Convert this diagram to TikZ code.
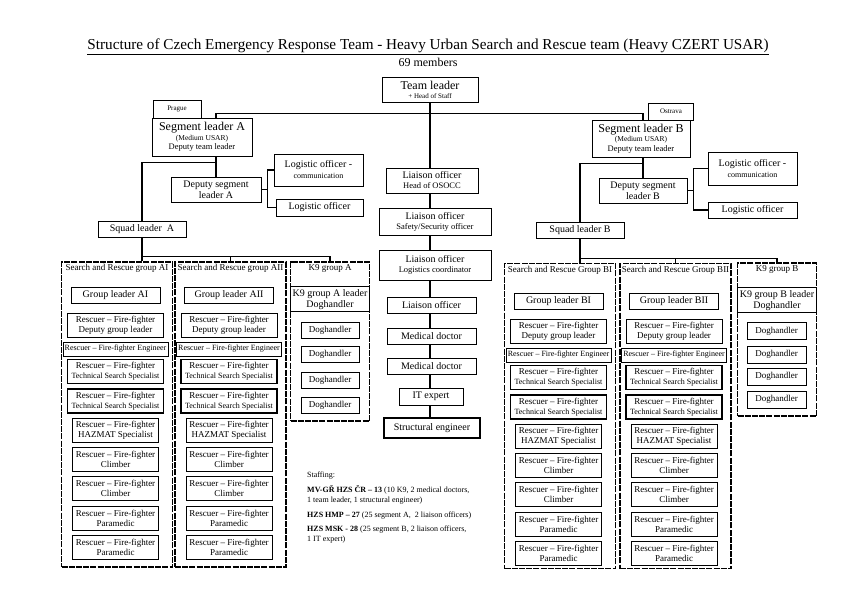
\documentclass[tikz,border=0pt]{standalone}
\usepackage{fontspec}
\setmainfont{Liberation Serif}
\usetikzlibrary{positioning, calc}
\newcommand{\fsz}[2]{\fontsize{#1}{#2}\selectfont}

\begin{document}
\begin{tikzpicture}[
    x=1pt, y=-1pt,
    box/.style={rectangle, draw, line width=0.6pt, inner sep=1pt, align=center, font=\fsz{9}{10}},
    thickbox/.style={box, line width=1.2pt},
    grp/.style={rectangle, draw, line width=1.1pt, dash pattern=on 6pt off 1.2pt},
    grptitle/.style={inner sep=0pt, font=\fsz{9}{10}},
    tag/.style={box, font=\fsz{7}{8}},
    conn/.style={line width=1.2pt}
  ]
  \useasboundingbox (0,0) rectangle (856,605);

  % heading
  \node (title) at (428,47) {\fsz{15.2}{17}\underline{Structure of Czech Emergency Response Team - Heavy Urban Search and Rescue team (Heavy CZERT USAR)}};
  \node[font=\fsz{12}{13}] (members) at (428,62) {69 members};

  % team leader and the two segments
  \node[box, minimum width=96, minimum height=25] (tl) at (430,89.5) {{\fsz{12}{13}Team leader}\\[-1pt]{\fsz{7}{8}+ Head of Staff}};
  \node[tag, minimum width=48, minimum height=18] (prague) at (177,109) {Prague};
  \node[box, minimum width=100, minimum height=38, font=\fsz{8.5}{9.5}] (segA) at (202,137) {{\fsz{12}{13}Segment leader A}\\{\fsz{7.5}{9}(Medium USAR)}\\Deputy team leader};
  \node[tag, minimum width=45, minimum height=17] (ostrava) at (671,111.5) {Ostrava};
  \node[box, minimum width=98, minimum height=37, font=\fsz{8.5}{9.5}] (segB) at (641,138.5) {{\fsz{12}{13}Segment leader B}\\{\fsz{7.5}{9}(Medium USAR)}\\Deputy team leader};

  \node[box, minimum width=90, minimum height=25, font=\fsz{10}{11}] (depA) at (216,189.5) {Deputy segment\\leader A};
  \node[box, minimum width=89, minimum height=32, font=\fsz{10}{11}] (logcommA) at (318.5,170) {Logistic officer -\\{\fsz{8}{9}communication}};
  \node[box, minimum width=87, minimum height=17, font=\fsz{10}{11}] (logA) at (319.5,207.5) {Logistic officer};
  \node[box, minimum width=88, minimum height=16, font=\fsz{10}{11}] (squadA) at (142,229) {Squad leader~ A};

  \node[box, minimum width=88, minimum height=25, font=\fsz{10}{11}] (depB) at (643,190.5) {Deputy segment\\leader B};
  \node[box, minimum width=89, minimum height=33, font=\fsz{10}{11}] (logcommB) at (752.5,168.5) {Logistic officer -\\{\fsz{8}{9}communication}};
  \node[box, minimum width=89, minimum height=16, font=\fsz{10}{11}] (logB) at (752.5,210) {Logistic officer};
  \node[box, minimum width=88, minimum height=16, font=\fsz{10}{11}] (squadB) at (580,230) {Squad leader B};

  % middle column
  \node[box, minimum width=92, minimum height=25, font=\fsz{8.5}{10}] (osocc) at (432,180.5) {{\fsz{10}{11}Liaison officer}\\Head of OSOCC};
  \node[box, minimum width=112, minimum height=27, font=\fsz{8.5}{10}] (safety) at (435,222) {{\fsz{10}{11}Liaison officer}\\Safety/Security officer};
  \node[box, minimum width=112, minimum height=30, font=\fsz{8.5}{10}] (logcoord) at (435,265) {{\fsz{10}{11}Liaison officer}\\Logistics coordinator};
  \node[box, minimum width=89, minimum height=16, font=\fsz{10}{11}] (liaison) at (431.5,305.5) {Liaison officer};
  \node[box, minimum width=89, minimum height=16, font=\fsz{10}{11}] (med1) at (431.5,336) {Medical doctor};
  \node[box, minimum width=89, minimum height=16, font=\fsz{10}{11}] (med2) at (431.5,366) {Medical doctor};
  \node[box, minimum width=64, minimum height=17, font=\fsz{10}{11}] (itexp) at (431,396.5) {IT expert};
  \node[thickbox, minimum width=96, minimum height=20, font=\fsz{10}{11}] (struct) at (432,428) {Structural engineer};

  % search and rescue groups
  \foreach \g/\gx/\dy/\gtitle in {AI/117/0/{Search and Rescue group AI}, AII/230.5/0/{Search and Rescue group AII},
                                  BI/560/6/{Search and Rescue Group BI}, BII/675.5/6/{Search and Rescue Group BII}} {
    \node[grp, minimum width=111, minimum height=305] (\g) at (\gx,414.5+\dy/4) {};
    \node[grptitle, below=3pt of \g.north] (\g-title) {\gtitle};
    \node[box, minimum width=89, minimum height=16, font=\fsz{10}{11}] (\g-lead) at (\gx-1.5,295+\dy) {Group leader \g};
    \node[box, minimum width=96, minimum height=24] (\g-dep) at (\gx-1.5,325+\dy) {Rescuer -- Fire-fighter\\Deputy group leader};
    \node[box, minimum width=105, minimum height=14, font=\fsz{8}{9}] (\g-eng) at (\gx-1.5,349+\dy) {Rescuer -- Fire-fighter Engineer};
    \foreach \r/\ry in {tss1/371.5, tss2/401}
      \node[thickbox, minimum width=96, minimum height=24] (\g-\r) at (\gx-1.5,\ry+\dy) {Rescuer -- Fire-fighter\\{\fsz{8}{9}Technical Search Specialist}};
    \foreach \r/\ry/\rt in {haz/430.5/HAZMAT Specialist, clb1/459/Climber, clb2/488.5/Climber, par1/518/Paramedic, par2/547/Paramedic}
      \node[box, minimum width=86, minimum height=24] (\g-\r) at (\gx-1.5,\ry+\dy) {Rescuer -- Fire-fighter\\\rt};
  }

  % K9 groups
  \foreach \k/\kx/\ky/\kh/\kl in {K9A/330/341.5/159/A, K9B/777/339.5/153/B} {
    \node[grp, minimum width=79, minimum height=\kh] (\k) at (\kx,\ky) {};
    \node[grptitle, below=3pt of \k.north] (\k-title) {K9 group \kl};
    \node[box, minimum width=79, minimum height=25, font=\fsz{10}{11}, below=25pt of \k.north] (\k-lead) {K9 group \kl{} leader\\Doghandler};
  }
  \foreach \i/\y in {1/330.5, 2/354, 3/380, 4/405.5}
    \node[box, minimum width=58, minimum height=16] (K9A-dog\i) at (330,\y) {Doghandler};
  \foreach \i/\y in {1/331, 2/354.5, 3/376.5, 4/399.5}
    \node[box, minimum width=59, minimum height=17] (K9B-dog\i) at (776.5,\y) {Doghandler};

  % staffing note
  \node[anchor=north west, align=left, inner sep=0pt, font=\fsz{8}{10}] (staffing) at (307,472) {Staffing:\\[5pt]
    \textbf{MV-GŘ HZS ČR – 13} (10 K9, 2 medical doctors,\\1 team leader, 1 structural engineer)\\[5pt]
    \textbf{HZS HMP – 27} (25 segment A,~ 2 liaison officers)\\[4pt]
    \textbf{HZS MSK - 28} (25 segment B, 2 liaison officers,\\1 IT expert)};

  % connectors
  \coordinate (topbar) at ($(tl.south)+(0,11)$);
  \draw[conn] (segA.north -| depA) |- (topbar) -| (segB.north -| depB);
  \foreach \a/\b in {tl/osocc, osocc/safety, safety/logcoord, logcoord/liaison, liaison/med1, med1/med2, med2/itexp, itexp/struct}
    \draw[conn] (\a.south -| tl) -- (\b.north -| tl);

  \foreach \s in {A, B} {
    \draw[conn] (seg\s.south -| dep\s) -- (dep\s);
    \coordinate (split\s) at ($(seg\s.south -| dep\s)+(0,6)$);
    \draw[conn] (split\s) -| (squad\s);
    \coordinate (logj\s) at ($(dep\s.east)+(6,0)$);
    \draw[conn] (dep\s.east) -- (logj\s);
    \draw[conn] (logcomm\s.west) -| (logj\s) |- (log\s.west);
  }

  \coordinate (gbarA) at ($(squadA.south)+(0,19)$);
  \draw[conn] (squadA) -- (squadA |- AI.north);
  \draw[conn] (gbarA) -| (K9A.north);
  \draw[conn] (AII.north) -- (AII.north |- gbarA);

  \coordinate (gbarB) at ($(squadB.south)+(0,20)$);
  \draw[conn] (squadB) -- (squadB |- BI.north);
  \draw[conn] (gbarB) -| (K9B.north);
  \draw[conn] (BII.north) -- (BII.north |- gbarB);
\end{tikzpicture}
\end{document}
